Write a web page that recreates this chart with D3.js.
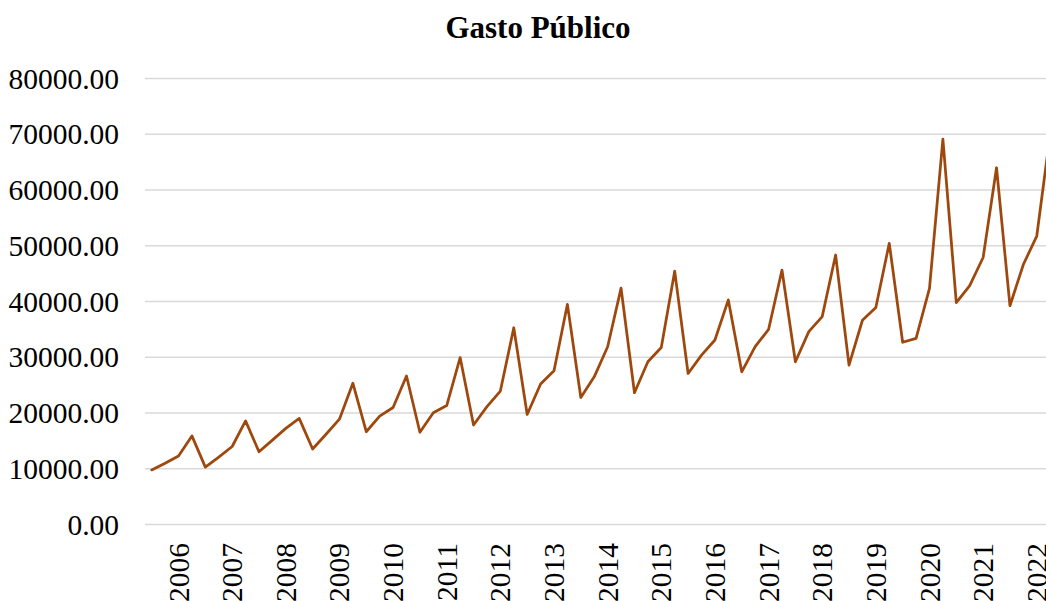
<!DOCTYPE html>
<html>
<head>
<meta charset="utf-8">
<script src="https://cdn.jsdelivr.net/npm/d3@7"></script>
<style>
  html, body { margin: 0; padding: 0; background: #fff; }
  svg { display: block; }
</style>
</head>
<body>
<svg id="chart" width="1046" height="601"></svg>
<script>
// ---- Data ----
const years = [2006, 2007, 2008, 2009, 2010, 2011, 2012, 2013, 2014, 2015, 2016, 2017, 2018, 2019, 2020, 2021, 2022];
const quarters = ["T1", "T2", "T3", "T4"];
const categories = years.flatMap(y => quarters.map(q => y + " " + q));
const gastoPublico = [
  9700, 10900, 12200, 15800,
  10200, 12000, 13900, 18500,
  12950, 15050, 17150, 18950,
  13450, 16100, 18800, 25250,
  16550, 19350, 20900, 26550,
  16450, 19950, 21250, 29850,
  17750, 21050, 23850, 35200,
  19650, 25100, 27500, 39400,
  22700, 26400, 31800, 42300,
  23550, 29100, 31650, 45350,
  27000, 30300, 33000, 40200,
  27300, 31800, 34900, 45550,
  29100, 34500, 37200, 48250,
  28500, 36550, 38850, 50350,
  32600, 33300, 42250, 69050,
  39700, 42750, 47800, 63900,
  39150, 46550, 51650, 70000
];
const yTicks = [0, 10000, 20000, 30000, 40000, 50000, 60000, 70000, 80000];
const yearLabelCategories = years.map(y => y + " T3");
const title = "Gasto Público";

// ---- Layout ----
const svg = d3.select("#chart");
const plotLeft = 145, step = 13.41;
const plotRight = plotLeft + step * categories.length;
const yTop = 78, yBottom = 524;
const fontFamily = "'Liberation Serif', 'Times New Roman', serif";

const x = d3.scaleBand().domain(categories).range([plotLeft, plotRight]).padding(0);
const y = d3.scaleLinear().domain([0, 80000]).range([yBottom, yTop]);

// Gridlines
const yAxis = d3.axisLeft(y).tickValues(yTicks).tickSize(-(plotRight - plotLeft) - 40)
  .tickFormat(d => d3.format(".2f")(d)).tickPadding(26);
const gy = svg.append("g").attr("transform", `translate(${plotLeft},0)`).call(yAxis);
gy.select(".domain").remove();
gy.selectAll(".tick line").attr("stroke", "#d9d9d9").attr("stroke-width", 1.5);
gy.selectAll(".tick text")
  .attr("font-family", fontFamily).attr("font-size", "29.5px").attr("fill", "#000")
  .attr("dy", "0.34em");

// X labels
const xAxis = d3.axisBottom(x).tickValues(yearLabelCategories).tickSize(0)
  .tickFormat(d => d.split(" ")[0]);
const gx = svg.append("g").attr("transform", `translate(0,${yBottom})`).call(xAxis);
gx.select(".domain").remove();
gx.selectAll(".tick text")
  .attr("font-family", fontFamily).attr("font-size", "29.5px").attr("fill", "#000")
  .attr("text-anchor", "end")
  .attr("transform", "rotate(-90)")
  .attr("x", -19).attr("y", 0).attr("dy", "0.34em");

// Line
const line = d3.line()
  .x((d, i) => x(categories[i]) + x.bandwidth() / 2)
  .y(d => y(d));
svg.append("path").datum(gastoPublico)
  .attr("d", line)
  .attr("fill", "none")
  .attr("stroke", "#9e480e")
  .attr("stroke-width", 2.75)
  .attr("stroke-linejoin", "round")
  .attr("stroke-linecap", "round");

// Title
svg.append("text")
  .attr("x", 538).attr("y", 38)
  .attr("text-anchor", "middle")
  .attr("font-family", fontFamily).attr("font-weight", "bold")
  .attr("font-size", "31px").attr("fill", "#000")
  .text(title);
</script>
</body>
</html>
